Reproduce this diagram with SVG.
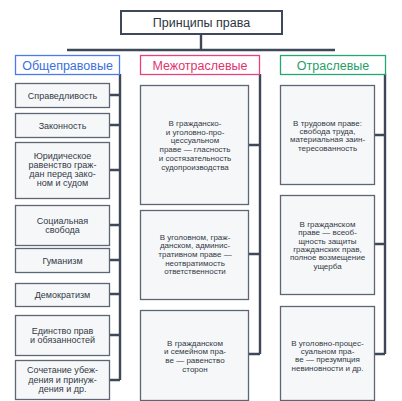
<svg xmlns="http://www.w3.org/2000/svg" width="402" height="401" viewBox="0 0 402 401">
<style>
.box{fill:#f6f7f9;stroke:#5d6675;stroke-width:1.3}
.ln{fill:none;stroke:#3f4858;stroke-width:2.4}
.t{font-family:"Liberation Sans",Arial,sans-serif;fill:#333a46;text-anchor:middle}
.s9{font-size:9px}
.s8{font-size:8px}
.h{font-family:"Liberation Sans",Arial,sans-serif;font-size:12.5px;text-anchor:middle}
</style>
<rect width="402" height="401" fill="#ffffff"/>
<g id="connectors">
<path class="ln" d="M201 34V50M67 50H335"/>
<path class="ln" d="M120 74V380M110 95H120M110 125H120M110 170H120M110 225H120M110 260H120M110 294H120M110 335H120M110 380H120"/>
<path class="ln" d="M260 74V354M249 145H260M249 254H260M249 354H260"/>
<path class="ln" d="M385 74V354M375 135H385M375 244H385M375 354H385"/>
</g>
<g id="title"><rect x="121" y="11" width="161" height="23" fill="#fff" stroke="#3f4858" stroke-width="2"/><text class="h" x="201.5" y="27" fill="#2d3440">Принципы права</text></g>
<g id="h1"><rect x="15.5" y="55.5" width="104" height="19" fill="#fff" stroke="#4a7be8" stroke-width="1.3"/><text class="h" x="67.5" y="69.5" fill="#3a6fe0">Общеправовые</text></g>
<g id="h2"><rect x="140.5" y="55.5" width="119" height="19" fill="#fff" stroke="#e8417d" stroke-width="1.3"/><text class="h" x="200" y="69.5" fill="#e0336e">Межотраслевые</text></g>
<g id="h3"><rect x="280.5" y="55.5" width="105" height="19" fill="#fff" stroke="#22a872" stroke-width="1.3"/><text class="h" x="333" y="69.5" fill="#1f9e68">Отраслевые</text></g>

<g id="l1"><rect class="box" x="15.5" y="83.5" width="94" height="24"/><text class="t s9" x="62.5" y="98.5">Справедливость</text></g>
<g id="l2"><rect class="box" x="15.5" y="113.5" width="94" height="24"/><text class="t s9" x="62.5" y="128.5">Законность</text></g>
<g id="l3"><rect class="box" x="15.5" y="142.5" width="94" height="56"/><text class="t s9" x="62.5" y="159">Юридическое<tspan x="62.5" dy="9">равенство граж-</tspan><tspan x="62.5" dy="9">дан перед зако-</tspan><tspan x="62.5" dy="9">ном и судом</tspan></text></g>
<g id="l4"><rect class="box" x="15.5" y="205.5" width="94" height="40"/><text class="t s9" x="62.5" y="224">Социальная<tspan x="62.5" dy="9">свобода</tspan></text></g>
<g id="l5"><rect class="box" x="15.5" y="248.5" width="94" height="24"/><text class="t s9" x="62.5" y="263.5">Гуманизм</text></g>
<g id="l6"><rect class="box" x="15.5" y="283.5" width="94" height="23"/><text class="t s9" x="62.5" y="298">Демократизм</text></g>
<g id="l7"><rect class="box" x="15.5" y="315.5" width="94" height="40"/><text class="t s9" x="62.5" y="334">Единство прав<tspan x="62.5" dy="9">и обязанностей</tspan></text></g>
<g id="l8"><rect class="box" x="15.5" y="360.5" width="94" height="39"/><text class="t s9" x="62.5" y="373">Сочетание убеж-<tspan x="62.5" dy="9.5">дения и принуж-</tspan><tspan x="62.5" dy="9.5">дения и др.</tspan></text></g>

<g id="m1"><rect class="box" x="140.5" y="85.5" width="108" height="119"/><text class="t s8" x="195" y="126">В гражданско-<tspan x="195" dy="8.7">и уголовно-про-</tspan><tspan x="195" dy="8.7">цессуальном</tspan><tspan x="195" dy="8.7">праве — гласность</tspan><tspan x="195" dy="8.7">и состязательность</tspan><tspan x="195" dy="8.7">судопроизводства</tspan></text></g>
<g id="m2"><rect class="box" x="140.5" y="210.5" width="108" height="89"/><text class="t s8" x="195" y="239.5">В уголовном, граж-<tspan x="195" dy="8.7">данском, админис-</tspan><tspan x="195" dy="8.7">тративном праве —</tspan><tspan x="195" dy="8.7">неотвратимость</tspan><tspan x="195" dy="8.7">ответственности</tspan></text></g>
<g id="m3"><rect class="box" x="140.5" y="310.5" width="108" height="90"/><text class="t s8" x="195" y="345.5">В гражданском<tspan x="195" dy="8.7">и семейном пра-</tspan><tspan x="195" dy="8.7">ве — равенство</tspan><tspan x="195" dy="8.7">сторон</tspan></text></g>

<g id="r1"><rect class="box" x="280.5" y="85.5" width="94" height="99"/><text class="t s8" x="327.5" y="125.5">В трудовом праве:<tspan x="327.5" dy="8.4">свобода труда,</tspan><tspan x="327.5" dy="8.4">материальная заин-</tspan><tspan x="327.5" dy="8.4">тересованность</tspan></text></g>
<g id="r2"><rect class="box" x="280.5" y="195.5" width="94" height="99"/><text class="t s8" x="327.5" y="226.8">В гражданском<tspan x="327.5" dy="8.4">праве — всеоб-</tspan><tspan x="327.5" dy="8.4">щность защиты</tspan><tspan x="327.5" dy="8.4">гражданских прав,</tspan><tspan x="327.5" dy="8.4">полное возмещение</tspan><tspan x="327.5" dy="8.4">ущерба</tspan></text></g>
<g id="r3"><rect class="box" x="280.5" y="306.5" width="94" height="94"/><text class="t s8" x="327.5" y="345.5">В уголовно-процес-<tspan x="327.5" dy="8.4">суальном пра-</tspan><tspan x="327.5" dy="8.4">ве — презумпция</tspan><tspan x="327.5" dy="8.4">невиновности и др.</tspan></text></g>
</svg>
